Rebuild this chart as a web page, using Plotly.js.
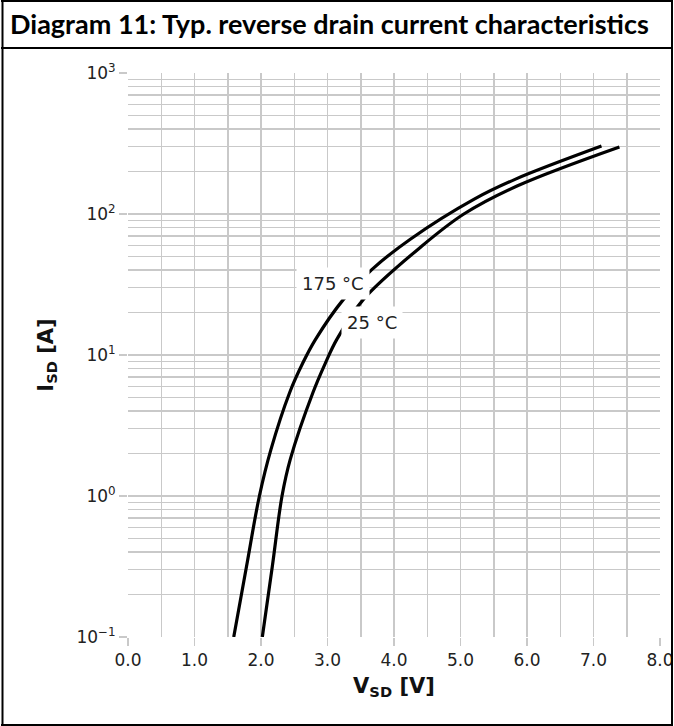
<!DOCTYPE html>
<html>
<head>
<meta charset="utf-8">
<script src="https://cdn.plot.ly/plotly-3.0.1.min.js"></script>
<style>
html,body{margin:0;padding:0;background:#fff;}
#chart{width:674px;height:726px;}
</style>
</head>
<body>
<div id="chart"></div>
<script>
// Data
const seriesNames = ["175 °C", "25 °C"];
const vsd175 = [1.59, 1.782, 1.976, 2.15, 2.43, 2.63, 2.82, 3.24, 3.67, 4.24, 5.20, 5.82, 7.12];
const isd175 = [0.1, 0.316, 1.0, 2.14, 5.4, 8.8, 12.9, 24.8, 40.5, 66, 127, 176, 303];
const vsd25 = [2.02, 2.17, 2.316, 2.44, 2.78, 2.97, 3.14, 3.54, 4.42, 5.05, 5.85, 7.39];
const isd25 = [0.1, 0.316, 1.0, 1.82, 5.4, 8.8, 12.9, 24.8, 59.3, 100, 158, 299];
const xTickVals = [0, 1, 2, 3, 4, 5, 6, 7, 8];
const xTickText = ["0.0", "1.0", "2.0", "3.0", "4.0", "5.0", "6.0", "7.0", "8.0"];
const yTickVals = [0.1, 1, 10, 100, 1000];
const yTickText = ["10<sup>−1</sup>", "10<sup>0</sup>", "10<sup>1</sup>", "10<sup>2</sup>", "10<sup>3</sup>"];

const tickFont = {family: "DejaVu Sans", size: 17, color: "#222"};
const gridColor = "#c9c9c9";

// minor grid positions 2..9 in each decade
const yMinor = [];
for (let d = -1; d < 3; d++) {
  for (let k = 2; k <= 9; k++) yMinor.push(k * Math.pow(10, d));
}

const traces = [
  {x: vsd175, y: isd175, name: seriesNames[0], mode: "lines", type: "scatter",
   line: {color: "#000", width: 3.2, shape: "spline", smoothing: 1}},
  {x: vsd25, y: isd25, name: seriesNames[1], mode: "lines", type: "scatter",
   line: {color: "#000", width: 3.2, shape: "spline", smoothing: 1}}
];

const L = 128, R = 14, T = 73, B = 89, W = 674, H = 726;
const pw = W - L - R, ph = H - T - B;
const px = v => (v - L) / pw;
const py = v => (H - B - v) / ph;

function hline(yp, x0p, x1p) {
  return {type: "line", xref: "paper", yref: "paper", x0: px(x0p), x1: px(x1p), y0: py(yp), y1: py(yp), line: {color: "#000", width: 2}};
}
function vline(xp, y0p, y1p) {
  return {type: "line", xref: "paper", yref: "paper", x0: px(xp), x1: px(xp), y0: py(y0p), y1: py(y1p), line: {color: "#000", width: 2}};
}

const layout = {
  width: W, height: H,
  margin: {l: L, r: R, t: T, b: B},
  paper_bgcolor: "#fff", plot_bgcolor: "#fff",
  showlegend: false,
  title: {
    text: "Diagram 11: Typ. reverse drain current characteristics",
    xref: "container", yref: "container",
    x: 10 / W, xanchor: "left",
    y: 1 - 25 / H, yanchor: "middle",
    font: {family: "Lato", size: 27, weight: "bold", color: "#000"}
  },
  xaxis: {
    range: [0, 8],
    tickmode: "array", tickvals: xTickVals, ticktext: xTickText,
    ticks: "outside", ticklen: 8, tickcolor: gridColor, tickwidth: 1.5,
    showgrid: true, gridcolor: gridColor, gridwidth: 1.5,
    minor: {dtick: 0.5, showgrid: true, gridcolor: gridColor, gridwidth: 1.5, ticks: ""},
    zeroline: false, showline: false,
    tickfont: tickFont,
    title: {text: "<b>V<sub>SD</sub> [V]</b>", font: {family: "DejaVu Sans", size: 21, color: "#111"}, standoff: 8}
  },
  yaxis: {
    type: "log",
    range: [-1, 3],
    tickmode: "array", tickvals: yTickVals, ticktext: yTickText,
    ticks: "outside", ticklen: 8, tickcolor: gridColor, tickwidth: 1.5,
    showgrid: true, gridcolor: gridColor, gridwidth: 1.5,
    minor: {tickmode: "array", tickvals: yMinor, showgrid: true, gridcolor: gridColor, gridwidth: 1.5, ticks: ""},
    zeroline: false, showline: false,
    tickfont: tickFont,
    title: {text: "<b>I<sub>SD</sub> [A]</b>", font: {family: "DejaVu Sans", size: 21, color: "#111"}, standoff: 17}
  },
  annotations: [
    {x: 3.087, y: 1.508, xref: "x", yref: "y", text: seriesNames[0], showarrow: false,
     bgcolor: "#fff", borderpad: 5, font: {family: "DejaVu Sans", size: 18, color: "#222"}},
    {x: 3.67, y: 1.232, xref: "x", yref: "y", text: seriesNames[1], showarrow: false,
     bgcolor: "#fff", borderpad: 5, font: {family: "DejaVu Sans", size: 18, color: "#222"}}
  ],
  shapes: [
    hline(1, 1, 673),
    hline(48, 1, 673),
    hline(725, 1, 673),
    vline(2.5, 0, 726),
    vline(672, 0, 726)
  ]
};

Plotly.newPlot("chart", traces, layout, {displayModeBar: false, staticPlot: true});
</script>
</body>
</html>
